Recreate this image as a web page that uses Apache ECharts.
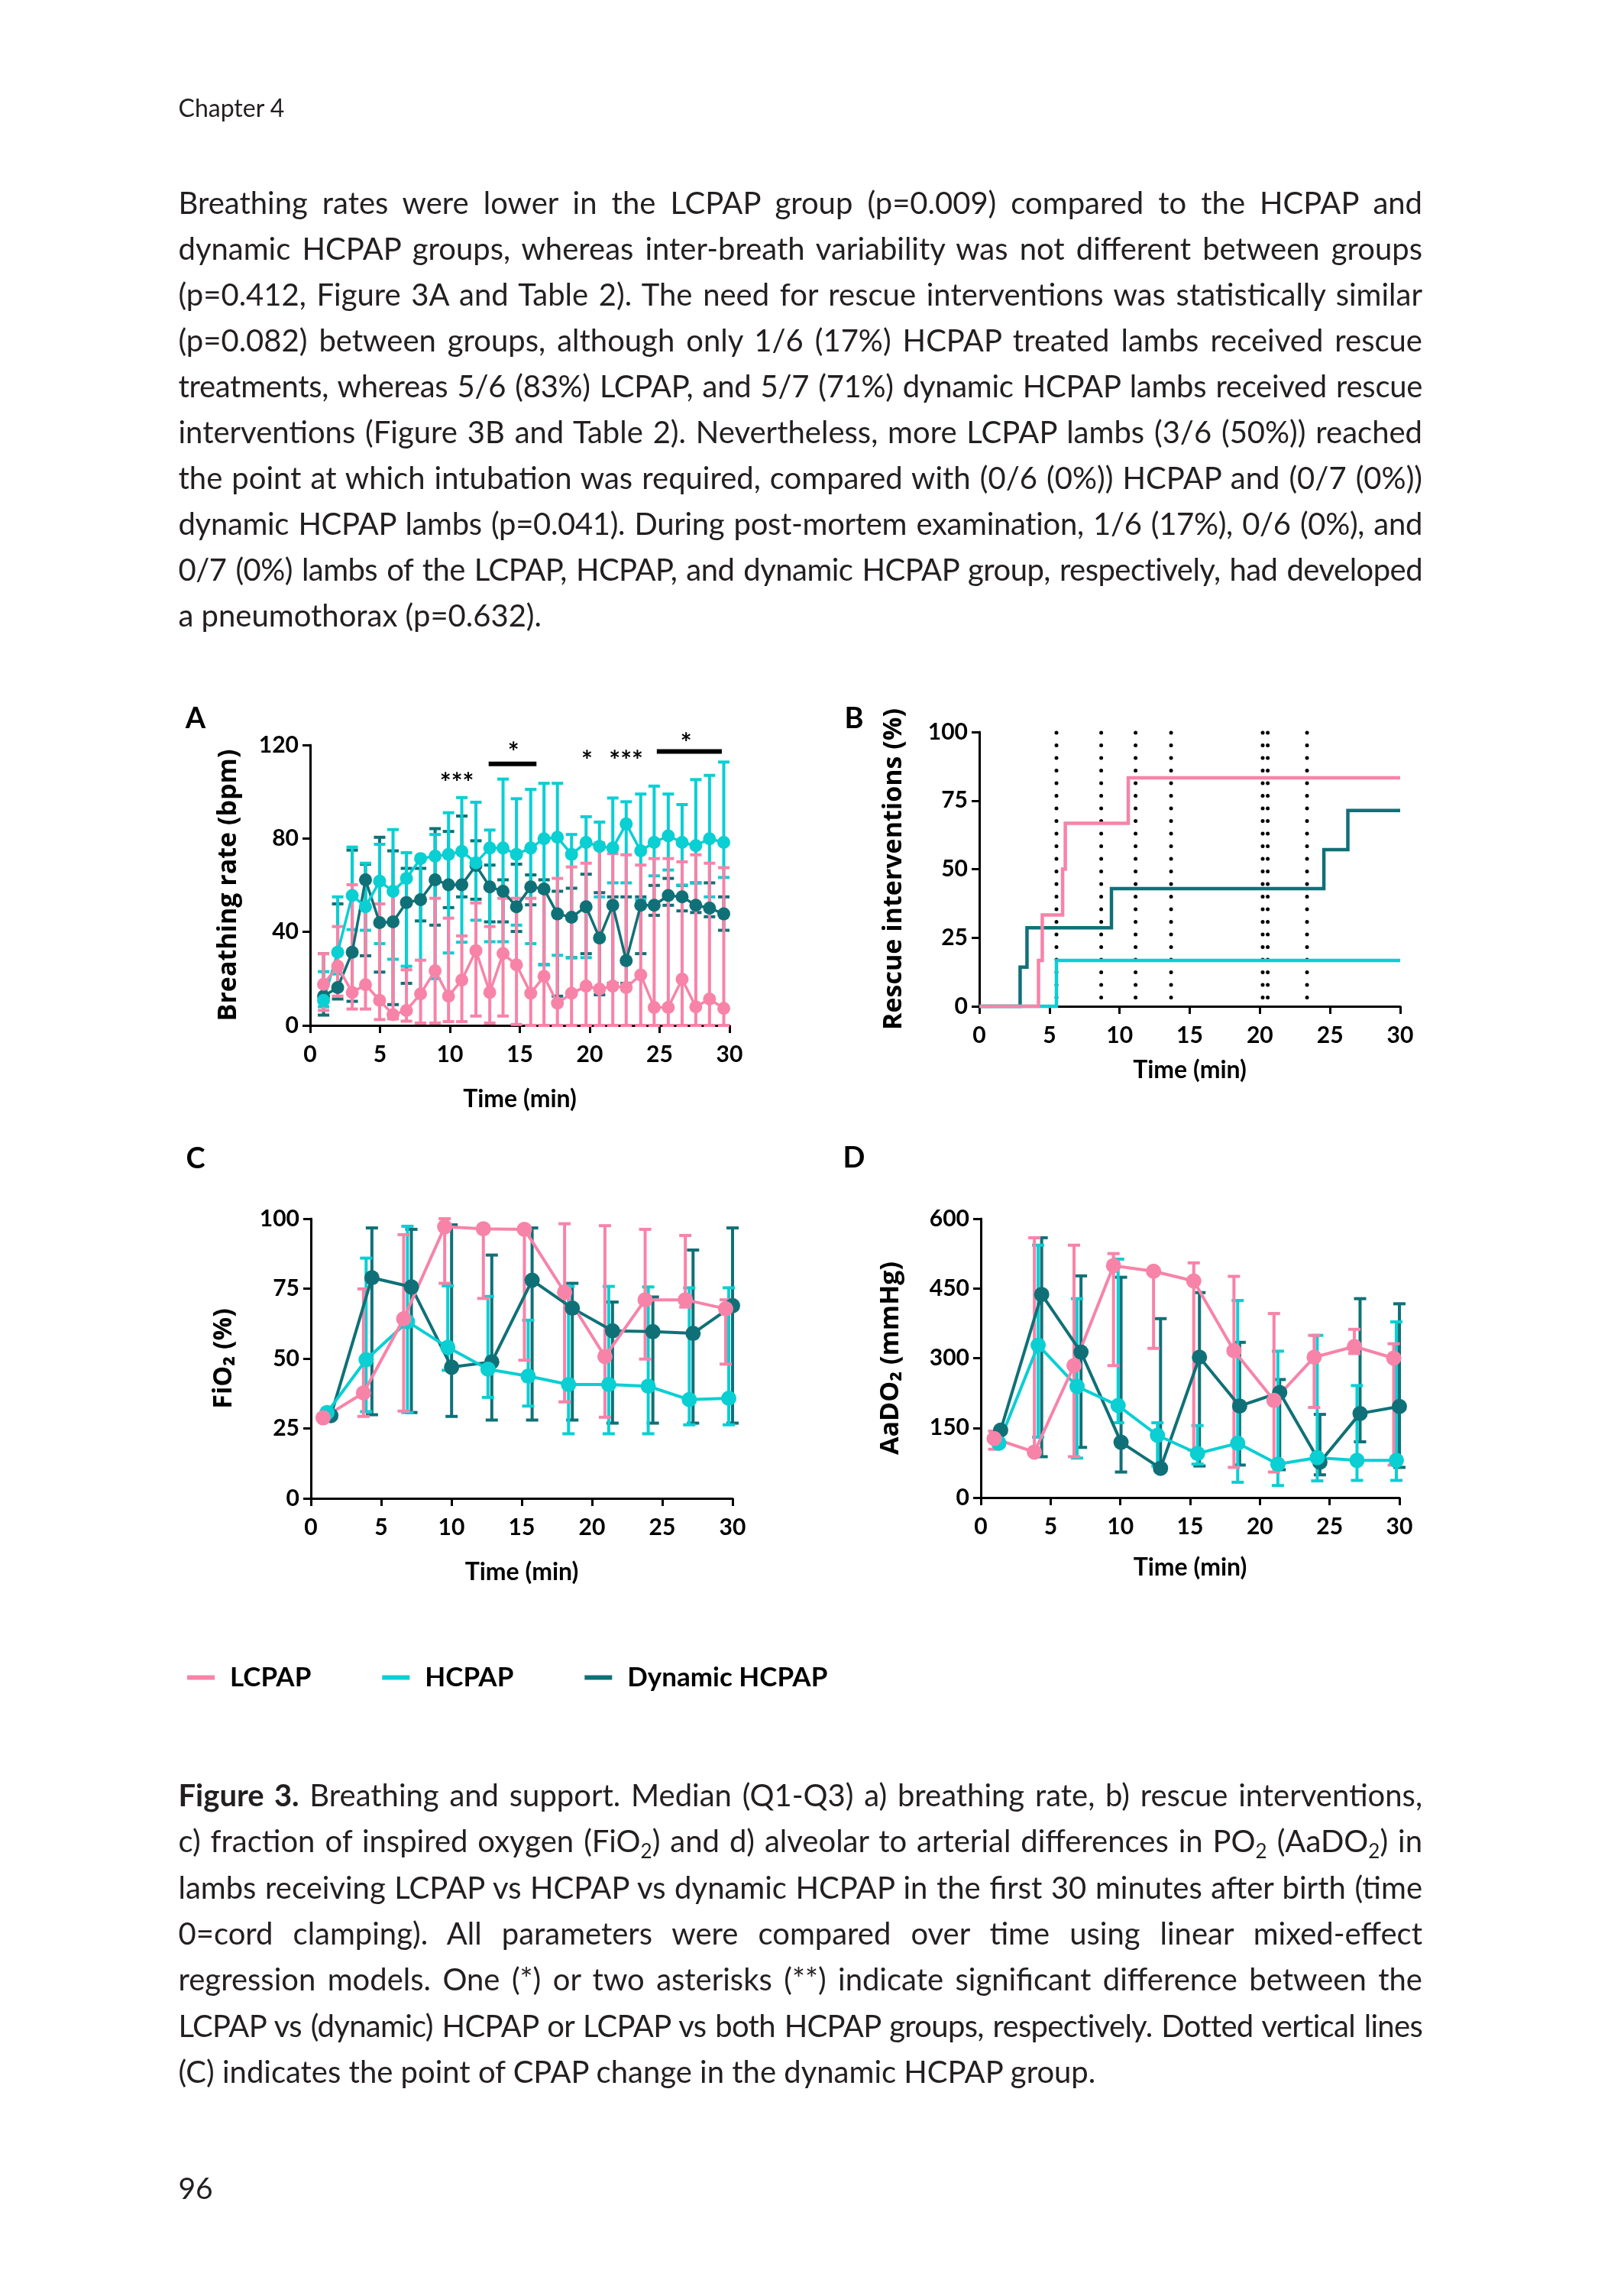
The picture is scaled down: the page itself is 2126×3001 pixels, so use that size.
<!DOCTYPE html>
<html>
<head>
<meta charset="utf-8">
<title>Figure 3</title>
<script src="https://cdn.jsdelivr.net/npm/echarts@6/dist/echarts.min.js"></script>
<style>
html,body{margin:0;padding:0;background:#ffffff;}
#page{position:relative;width:2126px;height:3001px;background:#ffffff;overflow:hidden;}
#chart{position:absolute;left:0;top:0;width:2126px;height:3001px;}
#txt{position:absolute;left:0;top:0;width:2126px;height:3001px;pointer-events:none;}
#txt text{font-family:Lato,'Open Sans',sans-serif;fill:#231f20;white-space:pre;}
</style>
</head>
<body>
<div id="page">
<div id="chart"></div>
<svg id="txt" xmlns="http://www.w3.org/2000/svg" width="2126" height="3001"></svg>
</div>
<script>
// ---------------- DATA ----------------
const groups = ['LCPAP', 'HCPAP', 'Dynamic HCPAP'];

// Panel A: breathing rate (bpm), median and Q1/Q3
const timeA = [0.96,1.97,3.01,3.96,4.97,5.93,6.89,7.9,8.94,9.9,10.85,11.86,12.85,13.8,14.76,15.78,16.73,17.69,18.7,19.74,20.7,21.65,22.61,23.65,24.61,25.62,26.61,27.59,28.57,29.59];
const brLcpapMed = [17.6,25.3,14.1,17.4,10.7,4.6,6.4,13.5,23.4,12.5,19.4,32,14.1,30.7,25.9,13.7,21,9.5,13.7,16.8,15.5,16.8,16.2,21.6,7.7,7.7,19.8,7.9,11.3,7.3];
const brLcpapQ3  = [30.7,42.3,60.2,51.1,52,56.8,23.8,27.9,54.4,45.9,38.3,52.4,42.3,54.4,54.4,54.4,57.2,62.9,67.8,69.4,78.1,73.5,73,68.6,71.4,71.4,70,73,69.4,67.5];
const brLcpapQ1  = [6.4,12.5,7,7,2.5,2.8,1.8,1,1,1.6,1.6,4,1,4,0.4,0,0,0,0,0,0,0,0,0,0,0,0,0,0,0];
const brHcpapMed = [10.7,31.3,55.6,50.8,61.7,57.4,62.9,71.4,72.4,73.2,74.5,69.6,75.9,75.9,73.2,75.9,79.9,80.5,73.2,78.3,76.6,75.9,86.2,74.7,78.3,81.1,78.3,76.9,79.9,78.3];
const brHcpapQ3  = [23,55,76.3,69.4,77.5,83.8,73.9,72,81.7,91,97.5,95.5,83.6,105.4,97,101,103.6,103.6,81.7,89.3,87,97.3,95.7,99,102.4,99,94.5,105.2,107,112.7];
const brHcpapQ1  = [8,22,41,40.7,35,28.3,25.3,14,20,31,35.6,45,35.8,35.8,42.9,35,26,30,28.9,29,55,61,61,53.8,64,66.5,60,61,55,63.3];
const brDynMed   = [12.5,16.2,31.3,62.3,44,44.3,52.6,53.8,62.3,60.2,60.2,68.4,59.3,57.4,50.8,59.3,58.4,47.7,46.3,50.8,37.4,51.4,27.7,51.4,51.4,55.6,55,51.4,50.2,47.7];
const brDynQ3    = [30.7,52,75,69,80.5,74.7,67.2,67.2,84.2,83,89.6,79,68.6,62.3,69,64.4,62.3,57.4,58.7,64.7,56.8,55,55,55,59.9,62.9,59.9,61,61,55];
const brDynQ1    = [4.4,11.3,10.3,29.8,22.8,8.9,18,44.7,42.9,50.4,55,54,44.3,44.3,40.2,51.6,26,12.5,29,30.7,13.1,18,18,30.7,47.1,51.4,49,48.3,46.5,40.7];
// significance marks in A
const sigStarX = [10.5,14.55,19.8,22.6,26.9];
const sigStarY = [106.3,119.4,115.8,115.8,123.3];
const sigStarText = ['***','*','*','***','*'];
const sigBarFrom = [12.77,24.8];
const sigBarTo   = [16.19,29.45];
const sigBarY    = [111.9,117.2];

// Panel B: cumulative rescue interventions (%), step events
const rescueLcpap = [[0,0],[4.22,16.7],[4.49,33.3],[5.94,50],[6.13,66.7],[10.62,83.3],[30,83.3]];
const rescueHcpap = [[0,0],[5.5,16.7],[30,16.7]];
const rescueDyn   = [[0,0],[2.91,14.3],[3.4,28.6],[9.42,42.9],[24.56,57.1],[26.27,71.4],[30,71.4]];
const cpapChangeTimes = [5.5,8.69,11.14,13.67,20.2,20.56,23.36];

// Panel C: FiO2 (%)
const timeCL = [0.87,3.74,6.6,9.52,12.27,15.19,18.05,20.92,23.78,26.64,29.51];
const timeCH = [1.15,3.93,6.87,9.74,12.6,15.46,18.33,21.19,24.0,26.92,29.73];
const timeCD = [1.42,4.34,7.15,10.01,12.87,15.74,18.6,21.46,24.33,27.19,30.0];
const fioLcpapMed = [28.8,37.7,64.2,97.1,96.4,96.2,73.7,50.7,71,71,67.8];
const fioLcpapQ3  = [30,74.9,94.3,100,97.5,97,98.2,97.5,96.2,94,71];
const fioLcpapQ1  = [28,29.3,31.2,76.9,71.5,49.4,34.5,29,49.8,68.4,48];
const fioHcpapMed = [30.7,49.6,63.2,54,46.2,43.7,40.7,40.7,40.1,35.3,35.8];
const fioHcpapQ3  = [31.5,85.9,97.3,76,72.2,63.7,75.8,75.8,75.6,75.3,75.3];
const fioHcpapQ1  = [29.5,31,30.7,45.8,36.1,33,23.1,23.1,23.1,26.3,26.3];
const fioDynMed   = [29.6,78.9,75.6,46.9,48.8,78,68,59.9,59.6,59,68.9];
const fioDynQ3    = [30,96.7,96.2,97.8,87,96.7,76.9,70.2,72,88.8,96.7];
const fioDynQ1    = [29,29.9,30.7,29.3,28,28,28,26.9,26.9,26.9,26.9];

// Panel D: AaDO2 (mmHg)
const timeDL = [0.96,3.84,6.68,9.51,12.38,15.26,18.14,21.01,23.89,26.77,29.59];
const timeDH = [1.29,4.11,6.9,9.84,12.66,15.53,18.41,21.29,24.11,26.96,29.78];
const timeDD = [1.42,4.36,7.18,10.05,12.88,15.67,18.55,21.42,24.3,27.18,30.0];
const aaLcpapMed = [127,98,284,499,487,466,316,209,302,325,300];
const aaLcpapQ3  = [143,559,543,525,490,505,476,396,349,362,331];
const aaLcpapQ1  = [104,92,88,284,321,102,65,55,194,310,70];
const aaHcpapMed = [117,328,239,198,134,95,117,72,86,80,80];
const aaHcpapQ3  = [125,543,428,513,161,155,424,315,349,241,378];
const aaHcpapQ1  = [110,130,85,161,68,72,33,26,36,37,37];
const aaDynMed   = [145,437,313,119,63,302,197,226,76,181,196];
const aaDynQ3    = [150,559,477,474,385,441,334,254,179,428,417];
const aaDynQ1    = [140,88,108,55,60,68,70,60,49,120,65];

// Text
const chapterTitle = 'Chapter 4';
const pageNumber = '96';
const bodyLines = [
 'Breathing rates were lower in the LCPAP group (p=0.009) compared to the HCPAP and',
 'dynamic HCPAP groups, whereas inter-breath variability was not different between groups',
 '(p=0.412, Figure 3A and Table 2). The need for rescue interventions was statistically similar',
 '(p=0.082) between groups, although only 1/6 (17%) HCPAP treated lambs received rescue',
 'treatments, whereas 5/6 (83%) LCPAP, and 5/7 (71%) dynamic HCPAP lambs received rescue',
 'interventions (Figure 3B and Table 2). Nevertheless, more LCPAP lambs (3/6 (50%)) reached',
 'the point at which intubation was required, compared with (0/6 (0%)) HCPAP and (0/7 (0%))',
 'dynamic HCPAP lambs (p=0.041). During post-mortem examination, 1/6 (17%), 0/6 (0%), and',
 '0/7 (0%) lambs of the LCPAP, HCPAP, and dynamic HCPAP group, respectively, had developed',
 'a pneumothorax (p=0.632).'
];
const captionLines = [
 '§Figure 3.§ Breathing and support. Median (Q1-Q3) a) breathing rate, b) rescue interventions,',
 'c) fraction of inspired oxygen (FiO_2_) and d) alveolar to arterial differences in PO_2_ (AaDO_2_) in',
 'lambs receiving LCPAP vs HCPAP vs dynamic HCPAP in the first 30 minutes after birth (time',
 '0=cord clamping). All parameters were compared over time using linear mixed-effect',
 'regression models. One (*) or two asterisks (**) indicate significant difference between the',
 'LCPAP vs (dynamic) HCPAP or LCPAP vs both HCPAP groups, respectively. Dotted vertical lines',
 '(C) indicates the point of CPAP change in the dynamic HCPAP group.'
];

// ---------------- STYLE ----------------
const PINK = '#F883A8', CYAN = '#0ACFD3', TEAL = '#0F7177';
const colors = [PINK, CYAN, TEAL];

// ---------------- TEXT (SVG) ----------------
const svgNS = 'http://www.w3.org/2000/svg';
const svg = document.getElementById('txt');
const TX = 233.5, TW = 1628.5;
function parseSegs(s){
  return s.split(/(§[^§]+§|_[0-9]_)/).filter(p => p.length).map(p => {
    if (p[0] === '§') return {t: p.slice(1, -1), b: true};
    if (/^_[0-9]_$/.test(p)) return {t: p[1], sub: true};
    return {t: p};
  });
}
function addText(x, y, str, size, justify){
  const t = document.createElementNS(svgNS, 'text');
  t.setAttribute('x', x); t.setAttribute('y', y);
  t.setAttribute('font-size', size);
  let shifted = false;
  parseSegs(str).forEach(seg => {
    const s = document.createElementNS(svgNS, 'tspan');
    s.textContent = seg.t;
    if (seg.b) s.setAttribute('font-weight', 'bold');
    if (seg.sub) { s.setAttribute('dy', 8); s.setAttribute('font-size', Math.round(size * 0.66)); shifted = true; }
    else if (shifted) { s.setAttribute('dy', -8); shifted = false; }
    t.appendChild(s);
  });
  svg.appendChild(t);
  if (justify) {
    let len = t.getComputedTextLength();
    const n = (str.match(/ /g) || []).length;
    const plain = str.replace(/§|_/g, '');
    const spaceW = size * 0.19;
    if (len > TW - n * spaceW * 0.15) {
      // too wide for comfortable word spaces: tighten letters slightly first
      const ls = (TW - len - n * spaceW * 0.3) / plain.length;
      t.style.letterSpacing = ls + 'px';
      len = t.getComputedTextLength();
    }
    if (n > 0) t.style.wordSpacing = ((TW - len) / n) + 'px';
  }
  return t;
}
function layoutText(){
  addText(TX, 152.7, chapterTitle, 32, false);
  bodyLines.forEach((l, i) => addText(TX, 279.5 + 60 * i, l, 40, i < bodyLines.length - 1));
  captionLines.forEach((l, i) => addText(TX, 2364 + 60.3 * i, l, 40, i < captionLines.length - 1));
  addText(TX, 2878, pageNumber, 39, false);
}

// ---------------- CHART ----------------
const chart = echarts.init(document.getElementById('chart'), null, {renderer: 'canvas'});
const grids = [
  {left: 406, top: 975, width: 549, height: 367},
  {left: 1282, top: 958, width: 551, height: 359},
  {left: 407, top: 1595, width: 552, height: 366},
  {left: 1284, top: 1595, width: 548, height: 365}
];
function xAxisCfg(gi, nameGap){
  return {gridIndex: gi, type: 'value', min: 0, max: 30, interval: 5,
    name: 'Time (min)', nameLocation: 'middle', nameGap: nameGap,
    nameTextStyle: {fontFamily: 'Lato', fontWeight: 'bold', fontSize: 32, color: '#000'},
    axisLine: {show: true, onZero: false, lineStyle: {color: '#000', width: 3}},
    axisTick: {show: true, inside: false, length: 10, lineStyle: {color: '#000', width: 3}},
    axisLabel: {show: true, margin: 23, fontFamily: 'Lato', fontWeight: 'bold', fontSize: 30, color: '#000'},
    splitLine: {show: false}};
}
function yAxisCfg(gi, name, max, interval, nameGap){
  return {gridIndex: gi, type: 'value', min: 0, max: max, interval: interval,
    name: name, nameLocation: 'middle', nameGap: nameGap,
    nameTextStyle: {fontFamily: "'Open Sans','Noto Sans',sans-serif", fontWeight: 'bold', fontSize: 34, color: '#000'},
    axisLine: {show: true, lineStyle: {color: '#000', width: 3}},
    axisTick: {show: true, inside: false, length: 10, lineStyle: {color: '#000', width: 3}},
    axisLabel: {show: true, margin: 15, fontFamily: 'Lato', fontWeight: 'bold', fontSize: 30, color: '#000'},
    splitLine: {show: false}};
}
function errSeries(gi, xs, lo, hi, color, capHalf, lw){
  return {type: 'custom', xAxisIndex: gi, yAxisIndex: gi, silent: true, clip: false, animation: false,
    data: xs.map((x, i) => [x, lo[i], hi[i]]), encode: {x: 0, y: [1, 2]},
    renderItem: function(params, api){
      const x = api.value(0);
      const a = api.coord([x, api.value(1)]), b = api.coord([x, api.value(2)]);
      const st = () => ({stroke: color, lineWidth: lw});
      return {type: 'group', children: [
        {type: 'line', shape: {x1: a[0], y1: a[1], x2: b[0], y2: b[1]}, style: st()},
        {type: 'line', shape: {x1: a[0] - capHalf, y1: a[1], x2: a[0] + capHalf, y2: a[1]}, style: st()},
        {type: 'line', shape: {x1: b[0] - capHalf, y1: b[1], x2: b[0] + capHalf, y2: b[1]}, style: st()}
      ]};
    }};
}
function lineSeries(name, gi, xs, ys, color, size, lw){
  return {type: 'line', name: name, xAxisIndex: gi, yAxisIndex: gi, silent: true, clip: false, animation: false,
    data: xs.map((x, i) => [x, ys[i]]), symbol: 'circle', symbolSize: size, showSymbol: true, showAllSymbol: true,
    lineStyle: {color: color, width: lw}, itemStyle: {color: color, borderWidth: 0}, emphasis: {disabled: true}};
}
function stepSeries(name, gi, pts, color, lw){
  return {type: 'line', name: name, xAxisIndex: gi, yAxisIndex: gi, silent: true, clip: false, animation: false,
    data: pts, step: 'end', symbol: 'none', lineStyle: {color: color, width: lw, cap: 'butt', join: 'miter'},
    itemStyle: {color: color}, emphasis: {disabled: true}};
}

const series = [];
// A
series.push(errSeries(0, timeA, brDynQ1, brDynQ3, TEAL, 7.5, 4));
series.push(lineSeries(groups[2], 0, timeA, brDynMed, TEAL, 17, 3.5));
series.push(errSeries(0, timeA, brHcpapQ1, brHcpapQ3, CYAN, 7.5, 4));
series.push(lineSeries(groups[1], 0, timeA, brHcpapMed, CYAN, 17, 3.5));
series.push(errSeries(0, timeA, brLcpapQ1, brLcpapQ3, PINK, 7.5, 4));
series.push(lineSeries(groups[0], 0, timeA, brLcpapMed, PINK, 17, 3.5));
series.push({type: 'custom', xAxisIndex: 0, yAxisIndex: 0, silent: true, clip: false, animation: false, z: 5,
  data: sigStarX.map((x, i) => [x, sigStarY[i]]), encode: {x: 0, y: 1},
  renderItem: function(params, api){
    const c = api.coord([api.value(0), api.value(1)]);
    return {type: 'text', x: c[0], y: c[1] + 8, style: {text: sigStarText[params.dataIndex], fill: '#000',
      font: 'bold 35px Lato', align: 'center', verticalAlign: 'middle', textAlign: 'center', textVerticalAlign: 'middle'}};
  }});
series.push({type: 'custom', xAxisIndex: 0, yAxisIndex: 0, silent: true, clip: false, animation: false, z: 5,
  data: sigBarFrom.map((x, i) => [x, sigBarTo[i], sigBarY[i]]), encode: {x: [0, 1], y: 2},
  renderItem: function(params, api){
    const a = api.coord([api.value(0), api.value(2)]), b = api.coord([api.value(1), api.value(2)]);
    return {type: 'line', shape: {x1: a[0], y1: a[1], x2: b[0], y2: b[1]}, style: {stroke: '#000', lineWidth: 6}};
  }});
// B
series.push({type: 'custom', xAxisIndex: 1, yAxisIndex: 1, silent: true, clip: false, animation: false,
  data: cpapChangeTimes.map(t => [t, 0, 100]), encode: {x: 0, y: [1, 2]},
  renderItem: function(params, api){
    const a = api.coord([api.value(0), api.value(1)]), b = api.coord([api.value(0), api.value(2)]);
    return {type: 'line', shape: {x1: b[0], y1: b[1] + 1, x2: a[0], y2: a[1] - 4},
      style: {stroke: '#000', lineWidth: 5, lineDash: [0.1, 16.4], lineCap: 'round'}};
  }});
series.push(stepSeries(groups[2], 1, rescueDyn, TEAL, 4.5));
series.push(stepSeries(groups[1], 1, rescueHcpap, CYAN, 4.5));
series.push(stepSeries(groups[0], 1, rescueLcpap, PINK, 4.5));
// C
series.push(errSeries(2, timeCD, fioDynQ1, fioDynQ3, TEAL, 8, 4));
series.push(lineSeries(groups[2], 2, timeCD, fioDynMed, TEAL, 20, 4));
series.push(errSeries(2, timeCH, fioHcpapQ1, fioHcpapQ3, CYAN, 8, 4));
series.push(lineSeries(groups[1], 2, timeCH, fioHcpapMed, CYAN, 20, 4));
series.push(errSeries(2, timeCL, fioLcpapQ1, fioLcpapQ3, PINK, 8, 4));
series.push(lineSeries(groups[0], 2, timeCL, fioLcpapMed, PINK, 20, 4));
// D
series.push(errSeries(3, timeDD, aaDynQ1, aaDynQ3, TEAL, 8, 4));
series.push(lineSeries(groups[2], 3, timeDD, aaDynMed, TEAL, 20, 4));
series.push(errSeries(3, timeDH, aaHcpapQ1, aaHcpapQ3, CYAN, 8, 4));
series.push(lineSeries(groups[1], 3, timeDH, aaHcpapMed, CYAN, 20, 4));
series.push(errSeries(3, timeDL, aaLcpapQ1, aaLcpapQ3, PINK, 8, 4));
series.push(lineSeries(groups[0], 3, timeDL, aaLcpapMed, PINK, 20, 4));

const letter = (t, x, y) => ({type: 'text', x: x, y: y, silent: true,
  style: {text: t, fill: '#000', font: 'bold 38px Lato', align: 'center', verticalAlign: 'middle', textAlign: 'center', textVerticalAlign: 'middle'}});

chart.setOption({
  backgroundColor: 'transparent',
  animation: false,
  grid: grids.map(g => Object.assign({containLabel: false, outerBoundsMode: 'none'}, g)),
  xAxis: [xAxisCfg(0, 81), xAxisCfg(1, 68), xAxisCfg(2, 81), xAxisCfg(3, 76)],
  yAxis: [
    yAxisCfg(0, 'Breathing rate (bpm)', 120, 40, 90),
    yAxisCfg(1, 'Rescue interventions (%)', 100, 25, 95),
    yAxisCfg(2, 'FiO₂ (%)', 100, 25, 97),
    yAxisCfg(3, 'AaDO₂ (mmHg)', 600, 150, 101)
  ],
  legend: {show: true, left: 245, top: 2178, padding: 0, orient: 'horizontal', itemGap: 93,
    itemWidth: 36, itemHeight: 6, icon: 'rect', selectedMode: false,
    textStyle: {fontFamily: 'Lato', fontWeight: 'bold', fontSize: 35, color: '#000', padding: [0, 0, 0, 15]},
    data: groups.map((g, i) => ({name: g, icon: 'rect', itemStyle: {color: colors[i]}}))},
  graphic: [letter('A', 256, 941), letter('B', 1118, 941), letter('C', 256, 1517), letter('D', 1118, 1516)],
  series: series
});

if (document.fonts && document.fonts.ready) { document.fonts.ready.then(layoutText); } else { layoutText(); }
</script>
</body>
</html>
